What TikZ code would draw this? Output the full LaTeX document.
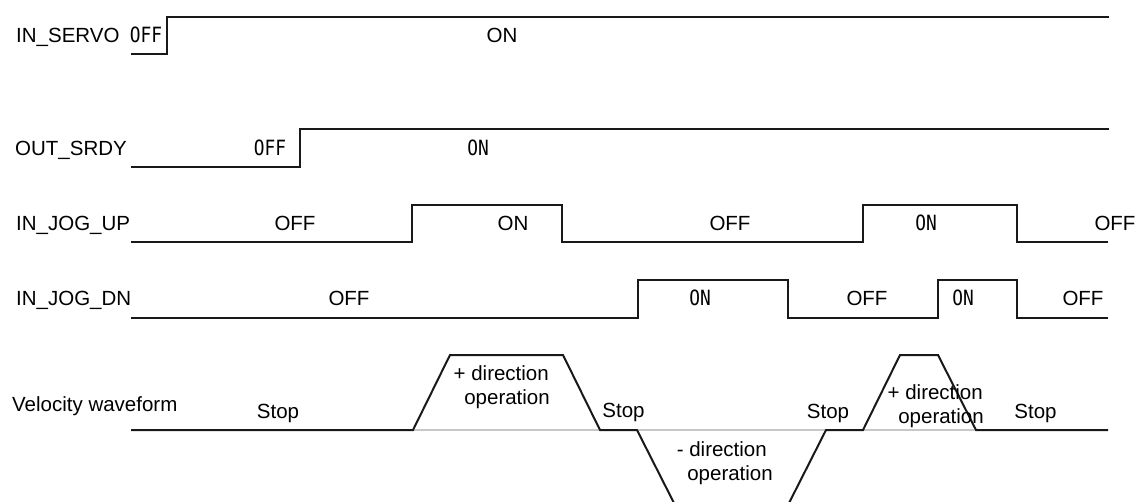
\documentclass[tikz,border=0pt]{standalone}
\usepackage{fontspec}
\setmainfont{Liberation Sans}
\newfontfamily\gothicfont[FakeStretch=0.85]{DejaVu Sans Mono}
\begin{document}
\begin{tikzpicture}[x=1pt,y=-1pt,
  sig/.style={line width=2pt, line join=miter, draw=black!90},
  lbl/.style={font=\fontsize{20.5}{24}\selectfont, inner sep=0pt, anchor=base west},
  txt/.style={font=\fontsize{20.5}{24}\selectfont, inner sep=0pt, anchor=base},
  rtxt/.style={txt, anchor=base east},
  gtxt/.style={font=\gothicfont\fontsize{21}{24}\selectfont, inner sep=0pt, anchor=base},
  axisline/.style={line width=1.2pt, draw=black!22}]
\clip (0,0) rectangle (1140,501);
\fill[white] (0,0) rectangle (1140,501);

% IN_SERVO
\node[lbl] (servo) at (16,42.5) {IN\_SERVO};
\node[gtxt] (servooff) at (146,42.5) {OFF};
\node[txt] (servoon) at (502,42.5) {ON};
\draw[sig] (131,54) -- (167,54) -- (167,17) -- (1109,17);

% OUT_SRDY
\node[lbl] (srdy) at (15,155) {OUT\_SRDY};
\node[gtxt] (srdyoff) at (270,155) {OFF};
\node[gtxt] (srdyon) at (478,155) {ON};
\draw[sig] (131,167) -- (300,167) -- (300,129) -- (1109,129);

% IN_JOG_UP
\node[lbl] (jogup) at (16,230.5) {IN\_JOG\_UP};
\node[txt] (up1) at (295,230.5) {OFF};
\node[txt] (up2) at (513,230.5) {ON};
\node[txt] (up3) at (730,230.5) {OFF};
\node[gtxt] (up4) at (926,230.5) {ON};
\node[txt] (up5) at (1115,230.5) {OFF};
\draw[sig] (131,242) -- (412,242) -- (412,205) -- (562,205) -- (562,242)
  -- (863,242) -- (863,205) -- (1017,205) -- (1017,242) -- (1108,242);

% IN_JOG_DN
\node[lbl] (jogdn) at (16,305) {IN\_JOG\_DN};
\node[txt] (dn1) at (349,305) {OFF};
\node[gtxt] (dn2) at (700,305) {ON};
\node[txt] (dn3) at (867,305) {OFF};
\node[gtxt] (dn4) at (963,305) {ON};
\node[txt] (dn5) at (1083,305) {OFF};
\draw[sig] (131,318) -- (638,318) -- (638,280) -- (788,280) -- (788,318)
  -- (938,318) -- (938,280) -- (1017,280) -- (1017,318) -- (1108,318);

% Velocity waveform
\node[lbl] (vel) at (12,411) {Velocity waveform};
\draw[axisline] (131,430) -- (1108,430);
\draw[sig] (131,430) -- (413,430) -- (450,355) -- (563,355) -- (600,430)
  -- (637,430) -- (676,507) -- (787,507) -- (826,430) -- (863,430)
  -- (900,355) -- (938,355) -- (976,430) -- (1108,430);
\node[txt] (stop1) at (278,418) {Stop};
\node[rtxt] (p1a) at (549,380) {+ direction};
\node[rtxt] (p1b) at (550,404) {operation};
\node[txt] (stop2) at (623.5,417) {Stop};
\node[rtxt] (m1a) at (767,456) {- direction};
\node[rtxt] (m1b) at (773,480) {operation};
\node[txt] (stop3) at (828,418) {Stop};
\node[rtxt] (p2a) at (983,399) {+ direction};
\node[rtxt] (p2b) at (984,423) {operation};
\node[txt] (stop4) at (1035.5,418) {Stop};
\end{tikzpicture}
\end{document}
